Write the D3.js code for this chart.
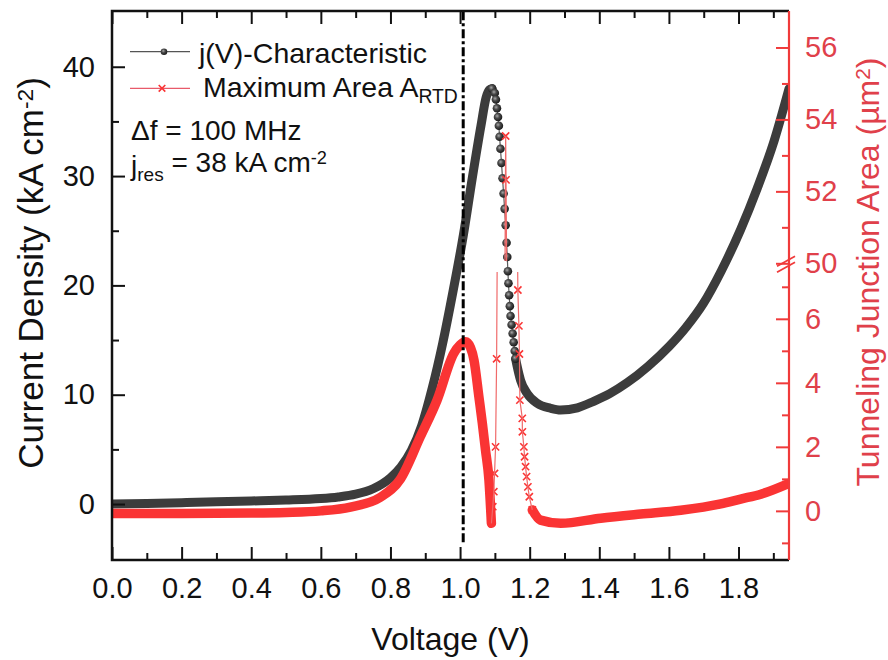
<!DOCTYPE html>
<html>
<head>
<meta charset="utf-8">
<script src="https://cdn.jsdelivr.net/npm/d3@7"></script>
<style>
body { margin: 0; background: #fff; }
text { font-family: "Liberation Sans", Arial, sans-serif; }
</style>
</head>
<body>
<svg id="chart" width="888" height="660"></svg>
<script>
// j(V) curve, dense part up to the peak
const jvRiseV = [0, 0.1, 0.2, 0.3, 0.4, 0.5, 0.6, 0.65, 0.7, 0.75, 0.8, 0.83, 0.86, 0.89, 0.92, 0.95, 0.98, 1.01, 1.035, 1.06, 1.075, 1.085, 1.092];
const jvRiseJ = [0, 0.05, 0.12, 0.2, 0.28, 0.36, 0.5, 0.65, 0.9, 1.4, 2.4, 3.4, 4.9, 7.2, 10.6, 14.7, 19.5, 24.7, 29.8, 34.6, 37.2, 37.9, 38.0];
// j(V) curve, sparse markers in the NDR region
const jvNdrV = [1.092, 1.0998, 1.103, 1.106, 1.109, 1.1115, 1.1135, 1.116, 1.119, 1.122, 1.125, 1.128, 1.131, 1.1336, 1.1356, 1.1374, 1.139, 1.141, 1.143, 1.145, 1.148, 1.151, 1.154, 1.157, 1.1595];
const jvNdrJ = [38.0, 37.6, 37.0, 36.2, 35.4, 34.6, 33.6, 32.5, 31.2, 29.8, 28.4, 27.0, 25.5, 23.9, 22.6, 21.3, 20.2, 19.1, 18.1, 17.2, 16.4, 15.6, 14.8, 14.0, 13.3];
// j(V) curve, dense part after the NDR region
const jvValleyV = [1.1595, 1.164, 1.174, 1.193, 1.222, 1.26, 1.289, 1.337, 1.384, 1.43, 1.48, 1.54, 1.6, 1.65, 1.7, 1.75, 1.806, 1.854, 1.902, 1.945];
const jvValleyJ = [13.3, 12.6, 11.3, 10.1, 9.2, 8.76, 8.6, 8.8, 9.4, 10.1, 11.1, 12.6, 14.4, 16.2, 18.4, 21.3, 25.1, 28.9, 33.2, 38.0];

// maximum area A_RTD, dense left part
const areaLeftV = [0, 0.2, 0.4, 0.5, 0.6, 0.685, 0.772, 0.829, 0.886, 0.934, 0.982, 1.0, 1.016, 1.03, 1.04, 1.054, 1.064, 1.073, 1.083, 1.09];
const areaLeftA = [-0.08, -0.08, -0.07, -0.05, 0.0, 0.12, 0.43, 1.0, 2.32, 3.46, 4.92, 5.18, 5.28, 5.1, 4.71, 3.57, 2.73, 1.9, 0.96, -0.39];
// maximum area, sparse markers in the NDR region
const areaNdrV = [1.09, 1.094, 1.097, 1.099, 1.102, 1.105, 1.131, 1.132, 1.166, 1.169, 1.1705, 1.1718, 1.1787, 1.179, 1.1833, 1.1853, 1.1882, 1.1911, 1.1948, 1.1989, 1.2075];
const areaNdrA = [-0.39, 0.13, 0.6, 1.17, 2.0, 4.75, 53.54, 52.32, 6.9, 5.78, 4.9, 3.46, 2.89, 2.47, 2.0, 1.69, 1.38, 1.07, 0.75, 0.44, 0.03];
// maximum area, dense right part
const areaRightV = [1.2075, 1.231, 1.289, 1.404, 1.519, 1.634, 1.749, 1.806, 1.864, 1.945];
const areaRightA = [0.03, -0.29, -0.39, -0.23, -0.1, 0.02, 0.22, 0.37, 0.52, 0.86];

const markerV = 1.009;          // dash-dot line
const markerJ = [-3.5, 45.1];

const xTicks = [0, 0.2, 0.4, 0.6, 0.8, 1.0, 1.2, 1.4, 1.6, 1.8];
const xMinor = [0.1, 0.3, 0.5, 0.7, 0.9, 1.1, 1.3, 1.5, 1.7, 1.9];
const jTicks = [0, 10, 20, 30, 40];
const jMinor = [5, 15, 25, 35];
const lowTicks = [0, 2, 4, 6];
const lowMinor = [-1, 1, 3, 5, 7];
const highTicks = [50, 52, 54, 56];
const highMinor = [51, 53, 55];

const pL = 112, pR = 789, pT = 11, pB = 560;
const breakY = 267;

const svg = d3.select("#chart");
const x = d3.scaleLinear().domain([0, 1.945]).range([pL, pR]);
const yJ = d3.scaleLinear().domain([-5.12, 45.1]).range([pB, pT]);
const yLow = d3.scaleLinear().domain([-1.535, 7.4]).range([pB, 274]);
const yHigh = d3.scaleLinear().domain([50, 57]).range([263.3, 11.5]);

const BLACK = "#3c3c3c", RED = "#fa3434", AXRED = "#f03a3a", TXTRED = "#e0404a";

const defs = svg.append("defs");
defs.append("clipPath").attr("id", "clipAll").append("rect")
    .attr("x", pL).attr("y", pT).attr("width", pR - pL).attr("height", pB - pT);
defs.append("clipPath").attr("id", "clipLow").append("rect")
    .attr("x", pL).attr("y", breakY + 5).attr("width", pR - pL).attr("height", pB - breakY - 5);
defs.append("clipPath").attr("id", "clipHigh").append("rect")
    .attr("x", pL).attr("y", pT).attr("width", pR - pL).attr("height", breakY - 6 - pT);
let grad = defs.append("radialGradient").attr("id", "ball").attr("cx", "40%").attr("cy", "38%").attr("r", "60%");
grad.append("stop").attr("offset", "0%").attr("stop-color", "#a8a8a8");
grad.append("stop").attr("offset", "45%").attr("stop-color", "#4a4a4a");
grad.append("stop").attr("offset", "100%").attr("stop-color", "#1c1c1c");

const zip = (a, b) => a.map((v, i) => [v, b[i]]);

// ---- data ----
const plot = svg.append("g").attr("clip-path", "url(#clipAll)");
const bandJ = d3.line().x(d => x(d[0])).y(d => yJ(d[1])).curve(d3.curveMonotoneX);

[zip(jvRiseV, jvRiseJ), zip(jvValleyV, jvValleyJ)].forEach(pts => {
    plot.append("path").attr("d", bandJ(pts))
        .attr("fill", "none").attr("stroke", BLACK).attr("stroke-width", 9)
        .attr("stroke-linecap", "round").attr("stroke-linejoin", "round");
});
const ndrJ = zip(jvNdrV, jvNdrJ);
plot.append("path").attr("d", d3.line().x(d => x(d[0])).y(d => yJ(d[1]))(ndrJ))
    .attr("fill", "none").attr("stroke", "#5a5a5a").attr("stroke-width", 1.2);
plot.selectAll(".ball").data(ndrJ).join("circle").attr("class", "ball")
    .attr("cx", d => x(d[0])).attr("cy", d => yJ(d[1])).attr("r", 4.3)
    .attr("fill", "url(#ball)");

// red: dense bands use the lower scale
const bandLow = d3.line().x(d => x(d[0])).y(d => yLow(d[1])).curve(d3.curveMonotoneX);
[zip(areaLeftV, areaLeftA), zip(areaRightV, areaRightA)].forEach(pts => {
    plot.append("path").attr("d", bandLow(pts))
        .attr("fill", "none").attr("stroke", RED).attr("stroke-width", 9.5)
        .attr("stroke-linecap", "round").attr("stroke-linejoin", "round");
});
const ndrA = zip(areaNdrV, areaNdrA);
svg.append("path").attr("clip-path", "url(#clipLow)")
    .attr("d", d3.line().x(d => x(d[0])).y(d => yLow(d[1]))(ndrA))
    .attr("fill", "none").attr("stroke", "#f06a6a").attr("stroke-width", 1.2);
svg.append("path").attr("clip-path", "url(#clipHigh)")
    .attr("d", d3.line().x(d => x(d[0])).y(d => yHigh(d[1]))(ndrA))
    .attr("fill", "none").attr("stroke", "#f06a6a").attr("stroke-width", 1.2);
const yArea = a => a > 30 ? yHigh(a) : yLow(a);
const cross = (sel, s) => sel.attr("d", `M${-s},${-s}L${s},${s}M${-s},${s}L${s},${-s}`)
    .attr("fill", "none").attr("stroke", RED).attr("stroke-width", 1.6);
plot.selectAll(".xm").data(ndrA.slice(1)).join("path").attr("class", "xm")
    .attr("transform", d => `translate(${x(d[0])},${yArea(d[1])})`)
    .call(cross, 3.6);

// dash-dot marker line
svg.append("line")
    .attr("x1", x(markerV)).attr("x2", x(markerV))
    .attr("y1", yJ(markerJ[0])).attr("y2", yJ(markerJ[1]))
    .attr("stroke", "#000").attr("stroke-width", 3).attr("stroke-dasharray", "9,3,3,3");

// ---- axes ----
function styleAxis(g, color) {
    g.select(".domain").remove();
    g.selectAll("line").attr("stroke", color).attr("stroke-width", 2);
    g.selectAll("text").attr("font-size", 29).attr("fill", color)
        .attr("font-family", '"Liberation Sans", Arial, sans-serif');
}
svg.append("g").attr("transform", `translate(0,${pB})`)
    .call(d3.axisBottom(x).tickValues(xTicks).tickSize(-13).tickPadding(17).tickFormat(d3.format(".1f")))
    .call(styleAxis, "#111");
svg.append("g").attr("transform", `translate(0,${pB})`)
    .call(d3.axisBottom(x).tickValues(xMinor).tickSize(-7).tickFormat(""))
    .call(styleAxis, "#111");
svg.append("g").attr("transform", `translate(0,${pT})`)
    .call(d3.axisTop(x).tickValues(xTicks).tickSize(-13).tickFormat(""))
    .call(styleAxis, "#111");
svg.append("g").attr("transform", `translate(0,${pT})`)
    .call(d3.axisTop(x).tickValues(xMinor).tickSize(-7).tickFormat(""))
    .call(styleAxis, "#111");
svg.append("g").attr("transform", `translate(${pL},0)`)
    .call(d3.axisLeft(yJ).tickValues(jTicks).tickSize(-13).tickPadding(17))
    .call(styleAxis, "#111");
svg.append("g").attr("transform", `translate(${pL},0)`)
    .call(d3.axisLeft(yJ).tickValues(jMinor).tickSize(-7).tickFormat(""))
    .call(styleAxis, "#111");
[[yLow, lowTicks, lowMinor], [yHigh, highTicks, highMinor]].forEach(([sc, maj, mn]) => {
    svg.append("g").attr("transform", `translate(${pR},0)`)
        .call(d3.axisRight(sc).tickValues(maj).tickSize(-13).tickPadding(16).tickFormat(d3.format("d")))
        .call(styleAxis, TXTRED)
        .call(g => g.selectAll("line").attr("stroke", AXRED));
    svg.append("g").attr("transform", `translate(${pR},0)`)
        .call(d3.axisRight(sc).tickValues(mn).tickSize(-7).tickFormat(""))
        .call(styleAxis, AXRED);
});
// frame
svg.append("path").attr("d", `M${pR},${pT}H${pL}V${pB}H${pR}`)
    .attr("fill", "none").attr("stroke", "#111").attr("stroke-width", 2.5);
svg.append("line").attr("x1", pR).attr("x2", pR).attr("y1", pT).attr("y2", pB)
    .attr("stroke", AXRED).attr("stroke-width", 2.2);
// axis break
const bY = yHigh(50);
[-3, 3].forEach(o => {
    svg.append("line").attr("x1", pR - 12).attr("y1", bY + o + 6).attr("x2", pR + 6).attr("y2", bY + o - 4)
        .attr("stroke", AXRED).attr("stroke-width", 1.8);
});

// ---- axis titles ----
svg.append("text").attr("x", (pL + pR) / 2).attr("y", 650).attr("text-anchor", "middle")
    .attr("font-size", 32).attr("fill", "#111").text("Voltage (V)");
const yt = svg.append("text").attr("transform", "translate(43,273) rotate(-90)")
    .attr("text-anchor", "middle").attr("font-size", 35).attr("fill", "#111");
yt.append("tspan").text("Current Density (kA cm");
yt.append("tspan").attr("dy", "-0.45em").attr("font-size", "0.65em").text("-2");
yt.append("tspan").attr("dy", "0.29em").text(")");
const rt = svg.append("text").attr("transform", "translate(879,272) rotate(-90)")
    .attr("text-anchor", "middle").attr("font-size", 32).attr("fill", TXTRED);
rt.append("tspan").text("Tunneling Junction Area (µm");
rt.append("tspan").attr("dy", "-0.45em").attr("font-size", "0.65em").text("2");
rt.append("tspan").attr("dy", "0.29em").text(")");

// ---- legend ----
const lg = svg.append("g");
lg.append("line").attr("x1", 130).attr("x2", 190).attr("y1", 51.7).attr("y2", 51.7)
    .attr("stroke", "#555").attr("stroke-width", 1.2);
lg.append("circle").attr("cx", 164).attr("cy", 51.7).attr("r", 3.3).attr("fill", "url(#ball)");
lg.append("text").attr("x", 199).attr("y", 63).attr("font-size", 28.5).attr("fill", "#111")
    .text("j(V)-Characteristic");
lg.append("line").attr("x1", 130).attr("x2", 190).attr("y1", 88.3).attr("y2", 88.3)
    .attr("stroke", "#e85a6a").attr("stroke-width", 1.2);
lg.append("path").attr("transform", "translate(162,88.3)").call(cross, 3.3);
const l2 = lg.append("text").attr("x", 203).attr("y", 97).attr("font-size", 28.5).attr("fill", "#111");
l2.append("tspan").text("Maximum Area A");
l2.append("tspan").attr("dy", "0.3em").attr("font-size", "0.68em").text("RTD");

svg.append("text").attr("x", 131).attr("y", 140).attr("font-size", 28).attr("fill", "#111")
    .text("\u0394f = 100 MHz");
const jr = svg.append("text").attr("x", 131).attr("y", 175).attr("font-size", 28).attr("fill", "#111");
jr.append("tspan").text("j");
jr.append("tspan").attr("dy", "0.32em").attr("font-size", "0.68em").text("res");
jr.append("tspan").attr("dy", "-0.32em").text(" = 38 kA cm");
jr.append("tspan").attr("dy", "-0.45em").attr("font-size", "0.65em").text("-2");
</script>
</body>
</html>
